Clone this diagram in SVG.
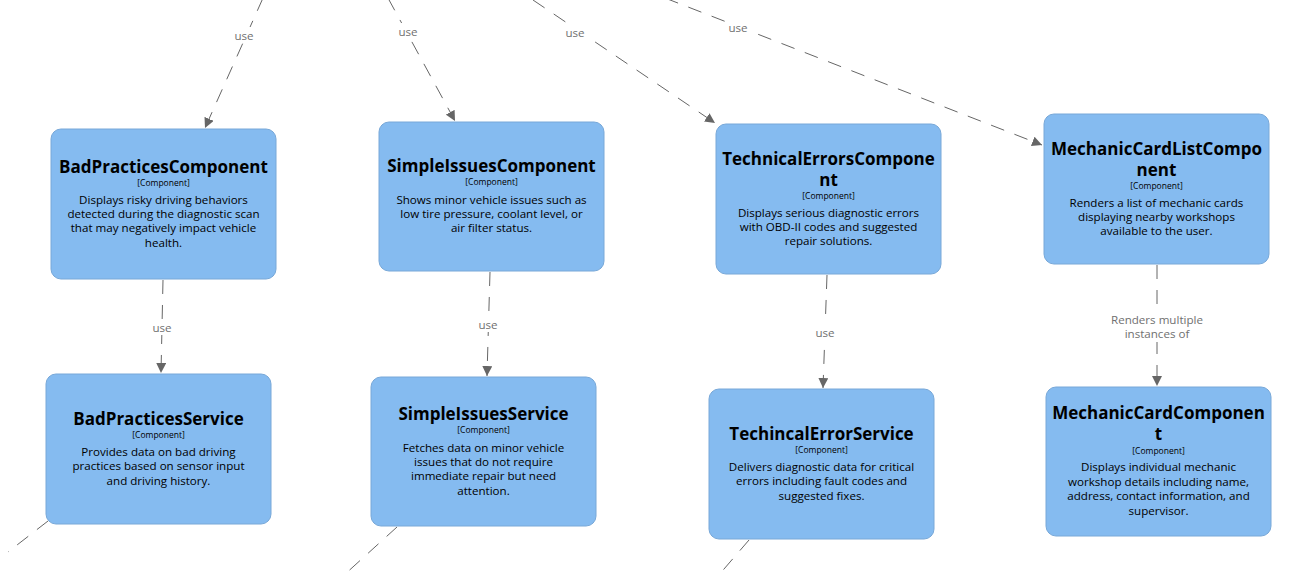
<svg xmlns="http://www.w3.org/2000/svg" width="1290" height="575" viewBox="0 0 1290 575">
<style>
.box{fill:#85BBF0;stroke:#78A8D8;stroke-width:1}
.t{font-family:"Open Sans","Noto Sans",sans-serif;font-size:17px;font-weight:bold;fill:#000;text-anchor:middle}
.k{font-family:"Open Sans","Noto Sans",sans-serif;font-size:8.5px;fill:#000;text-anchor:middle}
.d{font-family:"Open Sans","Noto Sans",sans-serif;font-size:11.6px;fill:#000;text-anchor:middle}
.c{fill:none;stroke:#666666;stroke-width:1;stroke-dasharray:14 11}
.l{font-family:"Open Sans","Noto Sans",sans-serif;font-size:11.6px;fill:#707070;text-anchor:middle}
.lb{fill:#fff}
</style>
<defs>
<marker id="ah" viewBox="0 0 10 10" refX="10" refY="5" markerWidth="10" markerHeight="10" markerUnits="userSpaceOnUse" orient="auto">
<path d="M0,0 L10,5 L0,10 z" fill="#666666"/>
</marker>
</defs>
<rect width="1290" height="575" fill="#fff"/>
<g id="connectors">
<path class="c" d="M263,-2 L205,128" marker-end="url(#ah)"/>
<path class="c" d="M388,-2 L455,121" marker-end="url(#ah)"/>
<path class="c" d="M533,0 L715,123" marker-end="url(#ah)"/>
<path class="c" d="M665,-2 L1042,145" marker-end="url(#ah)"/>
<path class="c" d="M163,280 L161,373" marker-end="url(#ah)"/>
<path class="c" d="M490,272 L487,376" marker-end="url(#ah)"/>
<path class="c" d="M827,275 L823,388" marker-end="url(#ah)"/>
<path class="c" d="M1157,265 L1157,386" marker-end="url(#ah)"/>
<path class="c" d="M48,521 L8,552"/>
<path class="c" d="M397,527 L343,576"/>
<path class="c" d="M749,540 L718,576"/>
<rect class="lb" x="232" y="27" width="24" height="16"/>
<rect class="lb" x="396" y="23" width="24" height="16"/>
<rect class="lb" x="563" y="24" width="24" height="16"/>
<rect class="lb" x="726" y="19" width="24" height="16"/>
<rect class="lb" x="150" y="319" width="24" height="16"/>
<rect class="lb" x="476" y="316" width="24" height="16"/>
<rect class="lb" x="813" y="324" width="24" height="16"/>
<rect class="lb" x="1108" y="311" width="98" height="31"/>
<text class="l" x="244" y="40">use</text>
<text class="l" x="408" y="36">use</text>
<text class="l" x="575" y="37">use</text>
<text class="l" x="738" y="32">use</text>
<text class="l" x="162" y="332">use</text>
<text class="l" x="488" y="329">use</text>
<text class="l" x="825" y="337">use</text>
<text class="l" x="1157" y="324">Renders multiple</text>
<text class="l" x="1157" y="338">instances of</text>
</g>
<g id="BadPracticesComponent">
<rect class="box" x="51" y="129" width="225" height="150" rx="10"/>
<text class="t" x="163.5" y="173">BadPracticesComponent</text>
<text class="k" x="163.5" y="186">[Component]</text>
<text class="d" x="163.5" y="204">Displays risky driving behaviors</text>
<text class="d" x="163.5" y="218">detected during the diagnostic scan</text>
<text class="d" x="163.5" y="232">that may negatively impact vehicle</text>
<text class="d" x="163.5" y="247">health.</text>
</g>
<g id="SimpleIssuesComponent">
<rect class="box" x="379" y="122" width="225" height="149" rx="10"/>
<text class="t" x="491.5" y="172">SimpleIssuesComponent</text>
<text class="k" x="491.5" y="185">[Component]</text>
<text class="d" x="491.5" y="204">Shows minor vehicle issues such as</text>
<text class="d" x="491.5" y="218">low tire pressure, coolant level, or</text>
<text class="d" x="491.5" y="232">air filter status.</text>
</g>
<g id="TechnicalErrorsComponent">
<rect class="box" x="716" y="124" width="225" height="150" rx="10"/>
<text class="t" x="828.5" y="165">TechnicalErrorsCompone</text>
<text class="t" x="828.5" y="186">nt</text>
<text class="k" x="828.5" y="199">[Component]</text>
<text class="d" x="828.5" y="217">Displays serious diagnostic errors</text>
<text class="d" x="828.5" y="231">with OBD-II codes and suggested</text>
<text class="d" x="828.5" y="245">repair solutions.</text>
</g>
<g id="MechanicCardListComponent">
<rect class="box" x="1044" y="114" width="225" height="150" rx="10"/>
<text class="t" x="1156.5" y="155">MechanicCardListCompo</text>
<text class="t" x="1156.5" y="176">nent</text>
<text class="k" x="1156.5" y="189">[Component]</text>
<text class="d" x="1156.5" y="207">Renders a list of mechanic cards</text>
<text class="d" x="1156.5" y="221">displaying nearby workshops</text>
<text class="d" x="1156.5" y="235">available to the user.</text>
</g>
<g id="BadPracticesService">
<rect class="box" x="46" y="374" width="225" height="150" rx="10"/>
<text class="t" x="158.5" y="425">BadPracticesService</text>
<text class="k" x="158.5" y="438">[Component]</text>
<text class="d" x="158.5" y="456">Provides data on bad driving</text>
<text class="d" x="158.5" y="470">practices based on sensor input</text>
<text class="d" x="158.5" y="485">and driving history.</text>
</g>
<g id="SimpleIssuesService">
<rect class="box" x="371" y="377" width="225" height="149" rx="10"/>
<text class="t" x="483.5" y="420">SimpleIssuesService</text>
<text class="k" x="483.5" y="433">[Component]</text>
<text class="d" x="483.5" y="452">Fetches data on minor vehicle</text>
<text class="d" x="483.5" y="466">issues that do not require</text>
<text class="d" x="483.5" y="480">immediate repair but need</text>
<text class="d" x="483.5" y="495">attention.</text>
</g>
<g id="TechincalErrorService">
<rect class="box" x="709" y="389" width="225" height="150" rx="10"/>
<text class="t" x="821.5" y="440">TechincalErrorService</text>
<text class="k" x="821.5" y="453">[Component]</text>
<text class="d" x="821.5" y="471">Delivers diagnostic data for critical</text>
<text class="d" x="821.5" y="485">errors including fault codes and</text>
<text class="d" x="821.5" y="500">suggested fixes.</text>
</g>
<g id="MechanicCardComponent">
<rect class="box" x="1046" y="387" width="225" height="149" rx="10"/>
<text class="t" x="1158.5" y="419">MechanicCardComponen</text>
<text class="t" x="1158.5" y="440">t</text>
<text class="k" x="1158.5" y="454">[Component]</text>
<text class="d" x="1158.5" y="471">Displays individual mechanic</text>
<text class="d" x="1158.5" y="486">workshop details including name,</text>
<text class="d" x="1158.5" y="500">address, contact information, and</text>
<text class="d" x="1158.5" y="515">supervisor.</text>
</g>
</svg>
